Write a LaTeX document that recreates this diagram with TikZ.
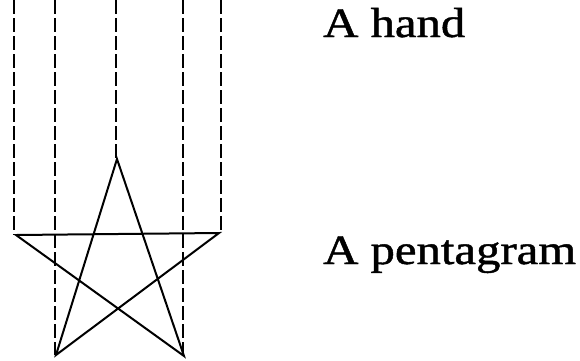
\documentclass[tikz,border=0pt]{standalone}
\usepackage{fontspec}
\setmainfont{Liberation Serif}
\newfontfamily\capfont{Liberation Serif}[FakeBold=1]
\usepackage{tikz}
\usetikzlibrary{positioning, calc}
\newcommand{\widetext}[1]{\scalebox{1.16}[1]{#1}}

\begin{document}
\begin{tikzpicture}[x=1pt, y=-1pt,
    finger/.style={line width=1.3pt, dash pattern=on 14pt off 4pt},
    edge/.style={line width=2pt, line join=miter},
    caption/.style={anchor=base west, inner sep=0pt, font=\capfont\fontsize{42}{46}\selectfont}]
    \useasboundingbox (0,0) rectangle (580,360);

    % pentagram points
    \coordinate (top) at (117,159);
    \coordinate (lft) at (16,235);
    \coordinate (rgt) at (219,233);
    \coordinate (bl) at (56,355);
    \coordinate (br) at (184,356);

    % fingers of the hand
    \coordinate (f1) at (14,0);
    \coordinate (f2) at (55,0);
    \coordinate (f3) at (116,0);
    \coordinate (f4) at (183,0);
    \coordinate (f5) at (221,0);
    \draw[finger] (f1) -- (f1 |- lft);
    \draw[finger] (f2) -- (f2 |- bl);
    \draw[finger] (f3) -- (f3 |- top);
    \draw[finger] (f4) -- (f4 |- br);
    \draw[finger] (f5) -- (f5 |- rgt);

    % the star
    \draw[edge] (top) -- (bl) -- (rgt) -- (lft) -- (br) -- cycle;

    \node[caption] (hand) at (323,37) {\widetext{A hand}};
    \node[caption] (penta) at (323,264) {\widetext{A pentagram}};
  \end{tikzpicture}
\end{document}
